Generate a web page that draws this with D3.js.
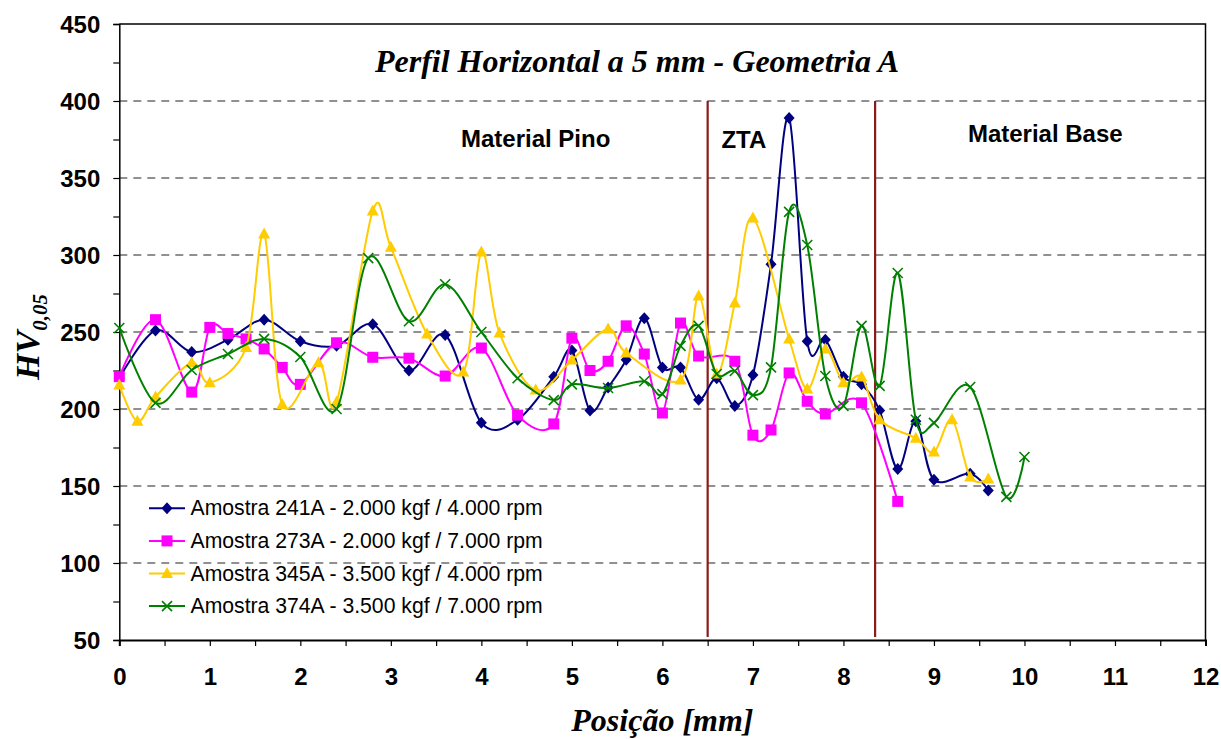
<!DOCTYPE html>
<html><head><meta charset="utf-8">
<script src="https://cdn.jsdelivr.net/npm/d3@7"></script>
<style>
html,body{margin:0;padding:0;background:#fff;}
svg{display:block;}
</style></head>
<body>
<svg id="c" width="1221" height="739"></svg>
<script>
// ---- data ----
const seriesNames = [
  "Amostra 241A - 2.000 kgf / 4.000 rpm",
  "Amostra 273A - 2.000 kgf / 7.000 rpm",
  "Amostra 345A - 3.500 kgf / 4.000 rpm",
  "Amostra 374A - 3.500 kgf / 7.000 rpm"
];
const s241x = [0,0.4,0.8,1.2,1.6,2.0,2.4,2.8,3.2,3.6,4.0,4.4,4.8,5.0,5.2,5.4,5.6,5.8,6.0,6.2,6.4,6.6,6.8,7.0,7.2,7.4,7.6,7.8,8.0,8.2,8.4,8.6,8.8,9.0,9.4,9.6];
const s241y = [220,251,237,245,258,244,241,255,225,248,191,193,221,238,199,214,232,259,227,227,206,220,202,222,294,389,244,245,221,216,199,161,192,154,158,147];
const s273x = [0,0.4,0.8,1.0,1.2,1.4,1.6,1.8,2.0,2.4,2.8,3.2,3.6,4.0,4.4,4.8,5.0,5.2,5.4,5.6,5.8,6.0,6.2,6.4,6.8,7.0,7.2,7.4,7.6,7.8,8.2,8.6];
const s273y = [221,258,211,253,249,245.5,239,227,216,243,233.6,233,221.4,239.6,196,190.3,246,225,231,254,235.7,197.4,255.8,234.4,231,183,186.4,223.4,205,196.8,204,140];
const s345x = [0,0.2,0.4,0.8,1.0,1.4,1.6,1.8,2.2,2.4,2.8,3.0,3.4,3.8,4.0,4.2,4.6,5.0,5.4,5.6,6.2,6.4,6.6,6.8,7.0,7.4,7.6,7.8,8.0,8.2,8.4,8.8,9.0,9.2,9.4,9.6];
const s345y = [215.6,192,207.8,230,217,240,313.6,203,230,204.5,328.6,305,248.7,224,302,249.4,212.3,231.8,252,236.4,218.8,273.4,222.7,268.8,324,245.5,213,239,217,220.8,193,181,172,193,155.8,154.5];
const s374x = [0,0.4,0.8,1.2,1.6,2.0,2.4,2.75,3.2,3.6,4.0,4.4,4.8,5.0,5.4,5.8,6.0,6.2,6.4,6.6,6.8,7.0,7.2,7.4,7.6,7.8,8.0,8.2,8.4,8.6,8.8,9.0,9.4,9.8,10.0];
const s374y = [252.6,204,225.3,235.7,245.5,233.8,200,298,257,281,250,220,205.8,216,213.6,218,209.7,241,254,222.7,224.7,209,227,328,306.5,221.4,202,254,215,288.3,193,191,214.3,142.9,168.8];
const xTicks = [0,1,2,3,4,5,6,7,8,9,10,11,12];
const yTicks = [50,100,150,200,250,300,350,400,450];
const zoneBounds = [6.5, 8.35];
const zoneLabels = [
  {text:"Material Pino", x:4.6},
  {text:"ZTA", x:6.9},
  {text:"Material Base", x:10.23}
];
const titleText = "Perfil Horizontal a 5 mm - Geometria A";
const xTitle = "Posição [mm]";

// ---- layout ----
const L = 119.3, R = 1205.5, T = 24, B = 640;
const svg = d3.select("#c");
const x = d3.scaleLinear().domain([0,12]).range([L,R]);
const y = d3.scaleLinear().domain([50,450]).range([B,T]);

const colors = ["#000080","#FF00FF","#FFCC00","#008000"];
const series = [
  {x:s241x, y:s241y},
  {x:s273x, y:s273y},
  {x:s345x, y:s345y},
  {x:s374x, y:s374y}
];

// gridlines
svg.append("g").selectAll("line").data(yTicks.filter(v=>v>50 && v<450)).join("line")
  .attr("x1",L).attr("x2",R).attr("y1",d=>y(d)).attr("y2",d=>y(d))
  .attr("stroke","#222").attr("stroke-width",1).attr("stroke-dasharray","8,6");

// border (top, right)
svg.append("path").attr("d",`M${L},${T}H${R}V${B}`).attr("fill","none").attr("stroke","#000").attr("stroke-width",1.5);

// zone lines
svg.append("g").selectAll("line").data(zoneBounds).join("line")
  .attr("x1",d=>x(d)).attr("x2",d=>x(d)).attr("y1",y(400)).attr("y2",B-3)
  .attr("stroke","#8B1A1A").attr("stroke-width",2.2);

// zone labels
const zoneY = [146.7,148,141.5];
svg.append("g").selectAll("text").data(zoneLabels).join("text")
  .attr("x",d=>x(d.x)).attr("y",(d,i)=>zoneY[i]).attr("text-anchor","middle")
  .attr("font-family","Liberation Sans, Arial, sans-serif").attr("font-weight","bold").attr("font-size",24)
  .text(d=>d.text);

// title
svg.append("text").attr("x",637).attr("y",72).attr("text-anchor","middle")
  .attr("font-family","Liberation Serif, Times New Roman, serif").attr("font-style","italic").attr("font-weight","bold")
  .attr("font-size",32).text(titleText);

// axes
const yAxis = d3.axisLeft(y).tickValues(d3.range(50,451,25)).tickSize(6).tickFormat(d=> d%50===0 ? d : "");
const gy = svg.append("g").attr("transform",`translate(${L},0)`).call(yAxis);
gy.select(".domain").attr("stroke","#000").attr("stroke-width",1.5);
gy.selectAll(".tick line").attr("stroke","#000").attr("stroke-width",1.2);
gy.selectAll(".tick text").attr("font-family","Liberation Sans, Arial, sans-serif").attr("font-weight","bold")
  .attr("font-size",24).attr("fill","#000").attr("x",-19).attr("dy","0.36em");

const xAxis = d3.axisBottom(x).tickValues(d3.range(0,12.01,0.5)).tickSize(6).tickFormat(d=> Number.isInteger(d) ? d : "");
const gx = svg.append("g").attr("transform",`translate(0,${B})`).call(xAxis);
gx.select(".domain").attr("stroke","#000").attr("stroke-width",2);
gx.selectAll(".tick line").attr("stroke","#000").attr("stroke-width",1.2);
gx.selectAll(".tick text").attr("font-family","Liberation Sans, Arial, sans-serif").attr("font-weight","bold")
  .attr("font-size",24).attr("fill","#000").attr("y",45).attr("dy",0);

// axis titles
svg.append("text").attr("x",x(6)).attr("y",731).attr("text-anchor","middle")
  .attr("font-family","Liberation Serif, Times New Roman, serif").attr("font-style","italic").attr("font-weight","bold")
  .attr("font-size",32).text(xTitle);
const yt = svg.append("text").attr("transform","translate(39,337) rotate(-90)").attr("text-anchor","middle")
  .attr("font-family","Liberation Serif, Times New Roman, serif").attr("font-style","italic").attr("font-weight","bold")
  .attr("font-size",34);
yt.append("tspan").text("HV");
yt.append("tspan").attr("font-size",21).attr("dy",8).text("0,05");

// markers
function marker(g, i, cx, cy){
  const c = colors[i];
  if(i===0){
    g.append("path").attr("d",`M${cx},${cy-6}L${cx+5.5},${cy}L${cx},${cy+6}L${cx-5.5},${cy}Z`).attr("fill",c);
  } else if(i===1){
    g.append("rect").attr("x",cx-5.5).attr("y",cy-5.5).attr("width",11).attr("height",11).attr("fill",c);
  } else if(i===2){
    g.append("path").attr("d",`M${cx},${cy-6.5}L${cx+6},${cy+4.5}L${cx-6},${cy+4.5}Z`).attr("fill",c);
  } else {
    g.append("path").attr("d",`M${cx-5},${cy-5}L${cx+5},${cy+5}M${cx-5},${cy+5}L${cx+5},${cy-5}`)
      .attr("stroke",c).attr("stroke-width",1.6).attr("fill","none");
  }
}

const line = d3.line().curve(d3.curveCatmullRom.alpha(0)).x(d=>x(d[0])).y(d=>y(d[1]));
series.forEach((s,i)=>{
  const pts = s.x.map((v,k)=>[v,s.y[k]]);
  const g = svg.append("g");
  g.append("path").datum(pts).attr("d",line).attr("fill","none").attr("stroke",colors[i]).attr("stroke-width",2);
  pts.forEach(p=>marker(g,i,x(p[0]),y(p[1])));
});

// legend
const lg = svg.append("g");
seriesNames.forEach((n,i)=>{
  const cy = 508.3 + i*32.6;
  lg.append("line").attr("x1",149).attr("x2",185).attr("y1",cy).attr("y2",cy).attr("stroke",colors[i]).attr("stroke-width",2);
  marker(lg,i,167,cy);
  lg.append("text").attr("x",190.5).attr("y",cy+7).attr("font-family","Liberation Sans, Arial, sans-serif")
    .attr("font-size",21.2).attr("fill","#000").text(n);
});
</script>
</body></html>
